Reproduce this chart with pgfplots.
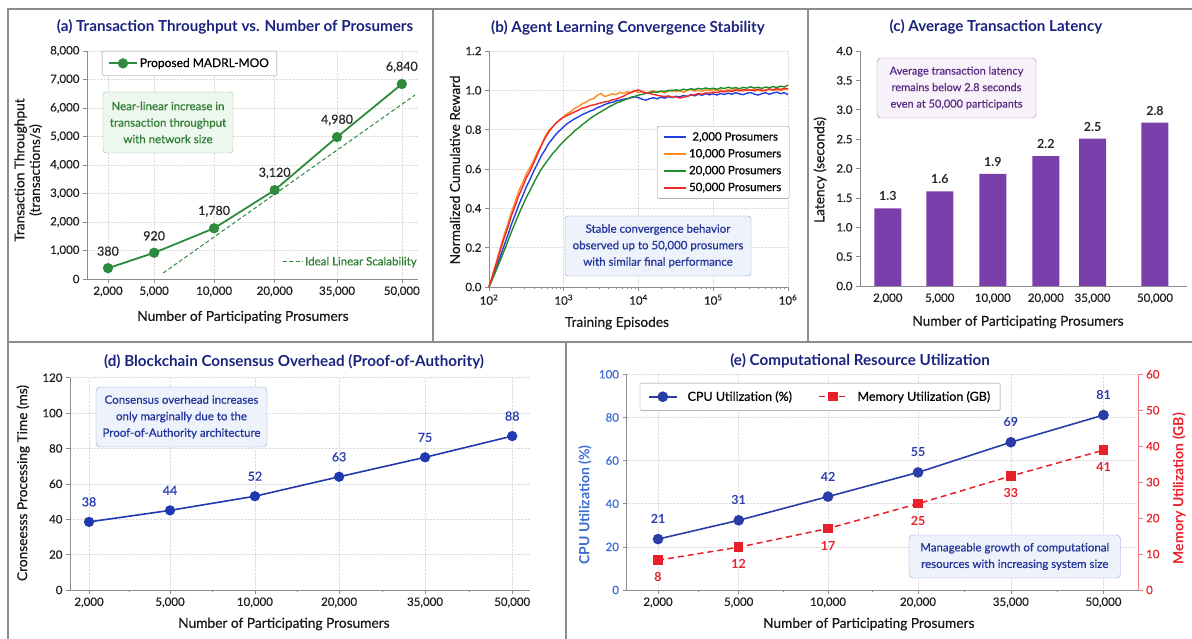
\documentclass[border=0pt]{standalone}
\usepackage{fontspec}
\setmainfont{Lato}
\newfontfamily\medfont[FakeBold=0.5]{Lato}
\usepackage{pgfplots}
\usepackage{pgfplotstable}
\pgfplotsset{compat=1.18}

\definecolor{titlec}{HTML}{1A237E}
\definecolor{framec}{HTML}{8C8C8C}
\definecolor{agreen}{HTML}{2E8B3E}
\definecolor{agreenbox}{HTML}{EEF7EE}
\definecolor{agreenbd}{HTML}{8CC490}
\definecolor{agreentxt}{HTML}{2E7D32}
\definecolor{bblue}{HTML}{2040E0}
\definecolor{borange}{HTML}{FF8A1E}
\definecolor{bgreen}{HTML}{1F8A2A}
\definecolor{bred}{HTML}{EE2A2A}
\definecolor{boxblue}{HTML}{EEF2FB}
\definecolor{boxbluebd}{HTML}{8DA2D8}
\definecolor{boxbluetxt}{HTML}{23349A}
\definecolor{cpurple}{HTML}{7B3FAB}
\definecolor{cboxfill}{HTML}{F8F2FA}
\definecolor{cboxbd}{HTML}{A47CC4}
\definecolor{cboxtxt}{HTML}{5B2C83}
\definecolor{dblue}{HTML}{2238B0}
\definecolor{ecpu}{HTML}{2A3CA8}
\definecolor{ecpulab}{HTML}{3A6BD4}
\definecolor{ered}{HTML}{E8202A}

\pgfplotstableread{
L b o r g
2.00 0.000 0.000 0.000 0.000
2.05 0.048 0.066 0.058 0.043
2.10 0.099 0.130 0.121 0.089
2.15 0.155 0.197 0.185 0.135
2.20 0.208 0.262 0.246 0.182
2.25 0.262 0.318 0.300 0.231
2.30 0.318 0.381 0.362 0.280
2.35 0.368 0.433 0.412 0.326
2.40 0.419 0.490 0.466 0.372
2.45 0.463 0.530 0.508 0.414
2.50 0.510 0.576 0.556 0.456
2.55 0.548 0.608 0.590 0.492
2.60 0.591 0.646 0.632 0.530
2.65 0.628 0.688 0.675 0.566
2.70 0.668 0.722 0.718 0.599
2.75 0.697 0.765 0.757 0.626
2.80 0.731 0.797 0.788 0.652
2.85 0.754 0.812 0.815 0.678
2.90 0.779 0.836 0.834 0.698
2.95 0.797 0.848 0.852 0.722
3.00 0.815 0.866 0.864 0.740
3.05 0.832 0.883 0.873 0.760
3.10 0.844 0.893 0.882 0.776
3.15 0.856 0.910 0.891 0.795
3.20 0.866 0.918 0.899 0.810
3.25 0.877 0.932 0.910 0.826
3.30 0.885 0.940 0.914 0.840
3.35 0.894 0.953 0.922 0.856
3.40 0.901 0.958 0.926 0.869
3.45 0.912 0.975 0.931 0.880
3.50 0.919 0.984 0.936 0.892
3.55 0.928 0.968 0.941 0.903
3.60 0.935 0.975 0.944 0.915
3.65 0.939 0.982 0.952 0.924
3.70 0.946 0.978 0.955 0.935
3.75 0.950 0.990 0.963 0.941
3.80 0.955 0.985 0.970 0.950
3.85 0.958 0.993 0.981 0.956
3.90 0.962 0.987 0.990 0.965
3.95 0.967 0.996 0.998 0.969
4.00 0.963 0.989 1.002 0.976
4.05 0.955 0.993 0.993 0.979
4.10 0.950 0.985 0.988 0.985
4.15 0.958 0.992 0.984 0.988
4.20 0.962 0.998 0.979 0.992
4.25 0.957 0.990 0.975 0.990
4.30 0.965 0.995 0.971 0.996
4.35 0.960 0.987 0.968 0.994
4.40 0.968 0.996 0.972 1.000
4.45 0.963 1.002 0.964 0.997
4.50 0.970 0.993 0.967 1.003
4.55 0.966 0.998 0.961 0.999
4.60 0.974 0.990 0.965 1.006
4.65 0.969 0.999 0.970 1.002
4.70 0.978 1.004 0.975 1.008
4.75 0.972 0.996 0.978 1.004
4.80 0.980 1.001 0.983 1.010
4.85 0.975 0.994 0.980 1.006
4.90 0.983 1.003 0.987 1.012
4.95 0.977 0.997 0.985 1.007
5.00 0.982 1.006 0.991 1.011
5.05 0.976 0.998 0.988 1.005
5.10 0.984 1.002 0.995 1.013
5.15 0.979 0.995 0.992 1.009
5.20 0.986 1.004 0.998 1.016
5.25 0.980 0.999 0.994 1.010
5.30 0.988 1.008 1.001 1.014
5.35 0.982 1.000 0.997 1.008
5.40 0.978 0.996 1.004 1.015
5.45 0.985 1.005 0.999 1.011
5.50 0.989 0.999 1.003 1.018
5.55 0.981 1.007 0.997 1.012
5.60 0.976 1.001 1.006 1.016
5.65 0.983 0.995 1.001 1.010
5.70 0.988 1.003 0.998 1.017
5.75 0.980 1.008 1.007 1.013
5.80 0.986 0.999 1.002 1.019
5.85 0.991 1.005 1.009 1.014
5.90 0.983 0.998 1.004 1.021
5.95 0.988 1.006 1.011 1.018
6.00 0.978 1.004 1.008 1.026
}\convtable

\pgfplotsset{
  base/.style={scale only axis, axis lines*=left, clip=false,
    axis line style={draw=black!45, line width=0.8pt},
    tick style={draw=black!45, line width=0.6pt},
    major tick length=4pt, minor tick length=2.5pt, tick align=outside,
    tick label style={font=\medfont\fontsize{11.5}{13}\selectfont, text=black!88},
    label style={font=\medfont\fontsize{13.7}{15.5}\selectfont, text=black!90},
    /pgf/number format/assume math mode=true,
    /pgf/number format/1000 sep={,},
    scaled ticks=false,
  },
  gridd/.style={grid=major, grid style={densely dotted, draw=black!13, line width=0.6pt}},
}
\tikzset{lablab/.style={font=\medfont\fontsize{12.5}{14}\selectfont},
  boldlab/.style={font=\bfseries\fontsize{12.5}{14}\selectfont},
  annot/.style={align=center, font=\medfont\fontsize{11.5}{16.5}\selectfont}}

\begin{document}
\begin{tikzpicture}[x=1pt,y=1pt]
\useasboundingbox (0,0) rectangle (1192,639);
% panel frames
\draw[framec, line width=1.1pt] (8,0) -- (8,630) -- (1192,630);
\draw[framec, line width=1.1pt] (8,297) -- (1192,297);
\draw[framec, line width=1.1pt] (433,630) -- (433,297);
\draw[framec, line width=1.1pt] (808,630) -- (808,297);
\draw[framec, line width=1.1pt] (566,297) -- (566,0);

% titles
\begin{scope}[every node/.style={font=\bfseries\fontsize{15.2}{17}\selectfont, text=titlec}]
\node at (235,612) {(a) Transaction Throughput vs. Number of Prosumers};
\node at (628,611) {(b) Agent Learning Convergence Stability};
\node at (996,612) {(c) Average Transaction Latency};
\node at (294,277) {(d) Blockchain Consensus Overhead (Proof-of-Authority)};
\node at (860,278) {(e) Computational Resource Utilization};
\end{scope}

% ---------------- (a)
\begin{axis}[base, gridd, at={(87pt,360pt)}, anchor=south west, width=331pt, height=228pt,
  xmin=-0.35, xmax=5.17, ymin=0, ymax=8000,
  xtick={0,0.77,1.77,2.78,3.82,4.9},
  xticklabels={{2,000},{5,000},{10,000},{20,000},{35,000},{50,000}},
  ytick={0,1000,2000,3000,4000,5000,6000,7000,8000},
  xlabel={Number of Participating Prosumers},
  xlabel style={at={(axis description cs:0.471,-0.167)}, anchor=center},
  ylabel={Transaction Throughput\\(transactions/s)},
  ylabel style={align=center, at={(axis description cs:-0.178,0.478)}, anchor=center},
  legend style={at={(axis description cs:0.045,1.0)}, anchor=north west, draw=black!45, rounded corners=1pt,
    font=\medfont\fontsize{12}{14}\selectfont, inner xsep=6pt, inner ysep=5pt},
  legend image code/.code={\draw[mark repeat=2,mark phase=2,#1] plot coordinates {(0pt,0pt) (14pt,0pt) (28pt,0pt)};},
]
\addplot[agreen, line width=1.8pt, mark=*, mark size=4.2pt, mark options={fill=agreen, draw=agreen},
  point meta=explicit symbolic, nodes near coords,
  nodes near coords style={anchor=center, yshift=17pt, lablab, text=black!85}]
  table[meta=lab] {
x y lab
0 380 380
0.77 920 920
1.77 1780 1,780
2.78 3120 3,120
3.82 4980 4,980
4.9 6840 6,840
};
\addlegendentry{Proposed MADRL-MOO}
\end{axis}
\begin{axis}[scale only axis, hide axis, clip=false, at={(87pt,360pt)}, anchor=south west, width=331pt, height=228pt,
  xmin=-0.35, xmax=5.17, ymin=0, ymax=8000,
  legend style={at={(axis description cs:0.58,0.075)}, anchor=west, draw=none, fill=none,
    font=\medfont\fontsize{11.5}{13}\selectfont, text=agreentxt},
  legend image code/.code={\draw[#1] (0pt,0pt) -- (20pt,0pt);},
]
\addplot[agreen, line width=1pt, dash pattern=on 4pt off 2.5pt] coordinates {(0.92,210) (5.12,6456)};
\addlegendentry{Ideal Linear Scalability}
\end{axis}
\node[draw=agreenbd, fill=agreenbox, rounded corners=3pt, minimum width=130pt, minimum height=61pt,
  annot, text=agreentxt] at (168,516.5)
  {Near-linear increase in\\transaction throughput\\with network size};

% ---------------- (b)
\begin{axis}[base, gridd, at={(489pt,352pt)}, anchor=south west, width=299pt, height=236pt,
  xmin=2, xmax=6, ymin=0, ymax=1.2,
  xtick={2,3,4,5,6},
  xticklabels={10\textsuperscript{2},10\textsuperscript{3},10\textsuperscript{4},10\textsuperscript{5},10\textsuperscript{6}},
  minor xtick={2.301,2.477,2.602,2.699,2.778,2.845,2.903,2.954,3.301,3.477,3.602,3.699,3.778,3.845,3.903,3.954,4.301,4.477,4.602,4.699,4.778,4.845,4.903,4.954,5.301,5.477,5.602,5.699,5.778,5.845,5.903,5.954},
  ytick={0,0.2,0.4,0.6,0.8,1.0,1.2},
  yticklabel style={/pgf/number format/.cd, fixed, fixed zerofill, precision=1},
  xlabel={Training Episodes},
  xlabel style={at={(axis description cs:0.428,-0.153)}, anchor=center},
  ylabel={Normalized Cumulative Reward},
  ylabel style={at={(axis description cs:-0.114,0.496)}, anchor=center},
  legend style={at={(axis description cs:0.562,0.682)}, anchor=north west, draw=black!45, rounded corners=2pt,
    font=\medfont\fontsize{11.5}{13}\selectfont, inner xsep=6pt, inner ysep=4pt, row sep=3pt},
  legend image code/.code={\draw[#1, line width=1.8pt] (0pt,0pt) -- (22pt,0pt);},
]
\addplot[bblue, line width=1.4pt] table[x=L, y=b] {\convtable};
\addlegendentry{2,000 Prosumers}
\addplot[borange, line width=1.4pt] table[x=L, y=o] {\convtable};
\addlegendentry{10,000 Prosumers}
\addplot[bgreen, line width=1.4pt] table[x=L, y=g] {\convtable};
\addlegendentry{20,000 Prosumers}
\addplot[bred, line width=1.4pt] table[x=L, y=r] {\convtable};
\addlegendentry{50,000 Prosumers}
\end{axis}
\node[draw=boxbluebd, fill=boxblue, rounded corners=3pt, minimum width=186pt, minimum height=60pt,
  annot, text=boxbluetxt] at (658,393)
  {Stable convergence behavior\\observed up to 50,000 prosumers\\with similar final performance};

% ---------------- (c)
\begin{axis}[base, at={(860pt,353pt)}, anchor=south west, width=327pt, height=235pt,
  xmin=-0.53, xmax=5.7, ymin=0, ymax=4,
  xtick={0,0.99,2.0,3.01,3.9,5.09},
  xticklabels={{2,000},{5,000},{10,000},{20,000},{35,000},{50,000}},
  xtick style={draw=none},
  ytick={0,0.5,1,1.5,2,2.5,3,3.5,4},
  yticklabel style={/pgf/number format/.cd, fixed, fixed zerofill, precision=1},
  xlabel={Number of Participating Prosumers},
  xlabel style={at={(axis description cs:0.483,-0.153)}, anchor=center},
  ylabel={Latency (seconds)},
  ylabel style={at={(axis description cs:-0.122,0.494)}, anchor=center},
]
\addplot[ybar, bar width=27pt, fill=cpurple, draw=none,
  point meta=explicit symbolic, nodes near coords,
  nodes near coords style={anchor=center, yshift=12pt, boldlab, text=black!85}]
  table[meta=lab] {
x y lab
0 1.32 1.3
0.99 1.61 1.6
2.0 1.91 1.9
3.01 2.21 2.2
3.9 2.51 2.5
5.09 2.78 2.8
};
\end{axis}
\node[draw=cboxbd, fill=cboxfill, rounded corners=4pt, minimum width=159pt, minimum height=60pt,
  annot, font=\medfont\fontsize{11}{16.5}\selectfont, text=cboxtxt] at (956.5,551)
  {Average transaction latency\\remains below 2.8 seconds\\even at 50,000 participants};

% ---------------- (d)
\begin{axis}[base, gridd, at={(70pt,49pt)}, anchor=south west, width=460pt, height=212.3pt,
  xmin=-0.225, xmax=5.21, ymin=0, ymax=120,
  xtick={0,0.957,1.96,2.955,3.97,5.0},
  xticklabels={{2,000},{5,000},{10,000},{20,000},{35,000},{50,000}},
  minor xtick={0.48,1.46,2.46,3.46,4.49},
  ytick={0,20,40,60,80,100,120},
  xlabel={Number of Participating Prosumers},
  xlabel style={at={(axis description cs:0.465,-0.16)}, anchor=center},
  ylabel={Cronseesss Processing Time (ms)},
  ylabel style={at={(axis description cs:-0.102,0.504)}, anchor=center},
]
\addplot[dblue, line width=1.6pt, mark=*, mark size=4.3pt, mark options={fill=dblue, draw=dblue},
  point meta=explicit symbolic, nodes near coords,
  nodes near coords style={anchor=center, yshift=20pt, lablab, text=dblue}]
  table[meta=lab] {
x y lab
0 38.5 38
0.957 45 44
1.96 53 52
2.955 64 63
3.97 75 75
5.0 87 88
};
\end{axis}
\node[draw=boxbluebd, fill=boxblue, rounded corners=4pt, minimum width=171pt, minimum height=60pt,
  annot, text=boxbluetxt] at (181.5,222)
  {Consensus overhead increases\\only marginally due to the\\Proof-of-Authority architecture};

% ---------------- (e)
\begin{axis}[base, gridd, at={(626.5pt,49pt)}, anchor=south west, width=512.1pt, height=215.7pt,
  axis y line*=left, axis x line*=bottom,
  xmin=-0.354, xmax=5.394, ymin=0, ymax=100,
  xtick={0,0.905,1.908,2.918,3.96,5},
  xticklabels={{2,000},{5,000},{10,000},{20,000},{35,000},{50,000}},
  minor xtick={0.45,1.41,2.41,3.44,4.48},
  ytick={0,20,40,60,80,100},
  yticklabel style={text=ecpulab},
  xlabel={Number of Participating Prosumers},
  xlabel style={at={(axis description cs:0.473,-0.158)}, anchor=center},
  ylabel={CPU Utilization (\%)},
  ylabel style={at={(axis description cs:-0.081,0.394)}, anchor=center, text=ecpulab, font=\bfseries\fontsize{14}{16}\selectfont},
]
\addplot[ecpu, line width=1.6pt, mark=*, mark size=4.5pt, mark options={fill=ecpu, draw=ecpu},
  point meta=explicit symbolic, nodes near coords,
  nodes near coords style={anchor=center, yshift=20pt, boldlab, text=ecpu}]
  table[meta=lab] {
x y lab
0 23.6 21
0.905 32.3 31
1.908 43.3 42
2.918 54.5 55
3.96 68.5 69
5 81.1 81
};
\end{axis}
\begin{axis}[base, at={(626.5pt,49pt)}, anchor=south west, width=512.1pt, height=215.7pt,
  axis y line*=right, axis x line=none,
  xmin=-0.354, xmax=5.394, ymin=0, ymax=60,
  ytick={0,10,20,30,40,50,60},
  axis line style={draw=ered!60, line width=0.8pt},
  tick style={draw=ered!60},
  yticklabel style={text=ered},
  ylabel={Memory Utilization (GB)},
  ylabel style={at={(axis description cs:1.079,0.47)}, anchor=center, text=ered, font=\bfseries\fontsize{14}{16}\selectfont},
  legend style={at={(axis description cs:0.026,0.96)}, anchor=north west, draw=black!45, rounded corners=1pt,
    font=\medfont\fontsize{12.5}{14}\selectfont, inner xsep=8pt, inner ysep=6pt},
  legend columns=2,
  legend image code/.code={\draw[mark repeat=2,mark phase=2,#1] plot coordinates {(0pt,0pt) (14pt,0pt) (28pt,0pt)};},
  /tikz/every even column/.append style={column sep=24pt},
  /tikz/every odd column/.append style={column sep=8pt},
]
\addlegendimage{ecpu, line width=1.6pt, mark=*, mark size=4.5pt, mark options={fill=ecpu, draw=ecpu}}
\addlegendentry{CPU Utilization (\%)}
\addplot[ered, line width=1.5pt, dash pattern=on 6pt off 4pt, mark=square*, mark size=4pt, mark options={solid, fill=ered, draw=ered},
  point meta=explicit symbolic, nodes near coords,
  nodes near coords style={anchor=center, yshift=-17pt, boldlab, text=ered}]
  table[meta=lab] {
x y lab
0 8.3 8
0.905 11.9 12
1.908 17.1 17
2.918 24.0 25
3.96 31.7 33
5 38.9 41
};
\addlegendentry{Memory Utilization (GB)}
\end{axis}
\node[draw=boxbluebd, fill=boxblue, rounded corners=4pt, minimum width=211.5pt, minimum height=43pt,
  annot, text=boxbluetxt] at (1014.75,82.5)
  {Manageable growth of computational\\resources with increasing system size};
\end{tikzpicture}
\end{document}
